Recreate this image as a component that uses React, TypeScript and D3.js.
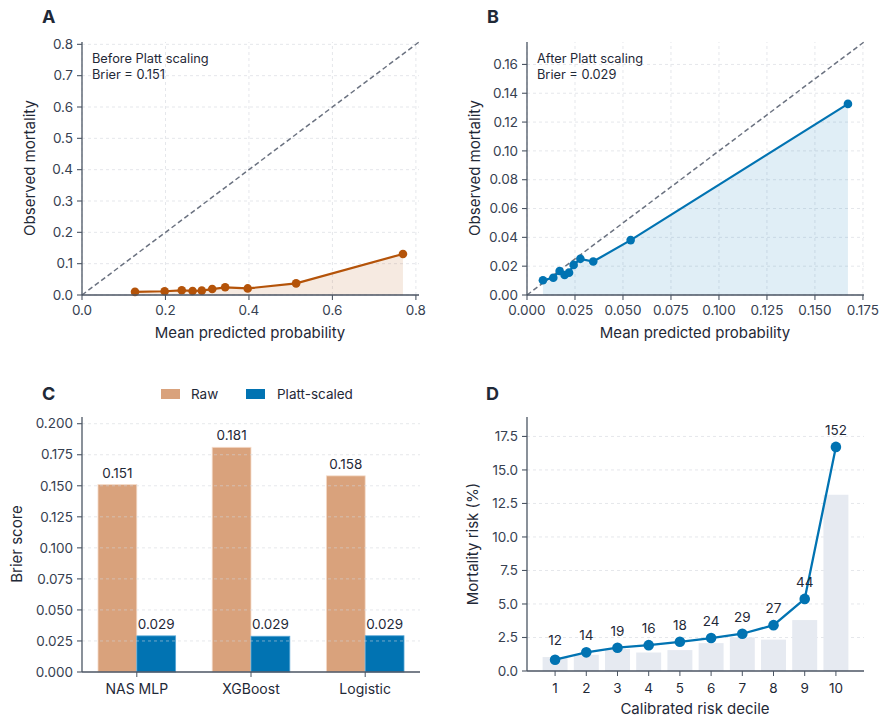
import React from "react";
import * as d3 from "d3";

// calibration bins, panel A (raw model)
const predA = [0.127, 0.198, 0.239, 0.265, 0.287, 0.312, 0.343, 0.397, 0.513, 0.769];
const obsA = [0.010, 0.012, 0.015, 0.013, 0.014, 0.019, 0.0245, 0.021, 0.037, 0.131];
// panel B (after Platt)
const predB = [0.0083, 0.0137, 0.017, 0.0196, 0.0219, 0.0243, 0.0278, 0.0345, 0.054, 0.1672];
const obsB = [0.0102, 0.012, 0.0167, 0.0139, 0.0155, 0.0209, 0.0251, 0.0232, 0.0381, 0.1326];

const models = ["NAS MLP", "XGBoost", "Logistic"];
const brierRaw = [0.151, 0.181, 0.158];
const brierPlatt = [0.0291, 0.0288, 0.0292];
const brierLabels = ["0.029", "0.029", "0.029"];

const deciles = ["1", "2", "3", "4", "5", "6", "7", "8", "9", "10"];
const predRisk = [0.84, 1.39, 1.74, 1.93, 2.18, 2.46, 2.78, 3.42, 5.38, 16.72];
const obsRisk = [1.04, 1.21, 1.64, 1.38, 1.56, 2.08, 2.51, 2.34, 3.8, 13.15];
const deaths = [12, 14, 19, 16, 18, 24, 29, 27, 44, 152];

const ORANGE = "#b45309";
const BLUE = "#0173b2";
const TAN = "#d9a27c";
const TEXT = "#1f2937";
const TICK = "#374151";
const AXIS = "#4b5563";
const GRID = "#e5e7eb";
const FONT = "Inter, 'Noto Sans', sans-serif";
const TS = 13.5; // tick font size
const LS = 15; // axis label size

type Lin = d3.ScaleLinear<number, number>;

function YAxis({ y, x0, ticks, fmt }: { y: Lin; x0: number; ticks: number[]; fmt: (v: number) => string }) {
  const [r0, r1] = y.range();
  return (
    <g>
      <line x1={x0} x2={x0} y1={r0} y2={r1} stroke={AXIS} strokeWidth={1.3} />
      {ticks.map((t) => (
        <g key={t}>
          <line x1={x0 - 5} x2={x0} y1={y(t)} y2={y(t)} stroke={AXIS} strokeWidth={1.1} />
          <text x={x0 - 9} y={y(t)} dy="0.35em" textAnchor="end" fontSize={TS} fill={TICK}>
            {fmt(t)}
          </text>
        </g>
      ))}
    </g>
  );
}

function XAxisLin({ x, y0, ticks, fmt }: { x: Lin; y0: number; ticks: number[]; fmt: (v: number) => string }) {
  const [r0, r1] = x.range();
  return (
    <g>
      <line x1={r0} x2={r1} y1={y0} y2={y0} stroke={AXIS} strokeWidth={1.3} />
      {ticks.map((t) => (
        <g key={t}>
          <line x1={x(t)} x2={x(t)} y1={y0} y2={y0 + 5} stroke={AXIS} strokeWidth={1.1} />
          <text x={x(t)} y={y0 + 20} textAnchor="middle" fontSize={TS} fill={TICK}>
            {fmt(t)}
          </text>
        </g>
      ))}
    </g>
  );
}

function CalPanel({ pred, obs, color, left, label, note, brier, xTicks, yTicks, xFmt, yFmt }: any) {
  const maxV = d3.max([...pred, ...obs]) * 1.05;
  const x = d3.scaleLinear().domain([0, maxV]).range([left, left + 337]);
  const y = d3.scaleLinear().domain([0, maxV]).range([295, 42]);
  const pts: [number, number][] = pred.map((p: number, i: number) => [p, obs[i]]);
  const line = d3.line<[number, number]>().x((d) => x(d[0])).y((d) => y(d[1]));
  const area = d3.area<[number, number]>().x((d) => x(d[0])).y0(y(0)).y1((d) => y(d[1]));
  return (
    <g>
      <text x={left - 40} y={23} fontSize={18} fontWeight={700} fill={TEXT}>{label}</text>
      {xTicks.map((t: number) => (
        <line key={"gx" + t} x1={x(t)} x2={x(t)} y1={y(0)} y2={y(maxV)} stroke={GRID} strokeDasharray="3,3" />
      ))}
      {yTicks.map((t: number) => (
        <line key={"gy" + t} x1={x(0)} x2={x(maxV)} y1={y(t)} y2={y(t)} stroke={GRID} strokeDasharray="3,3" />
      ))}
      <path d={area(pts) || ""} fill={color} fillOpacity={0.12} />
      <line x1={x(0)} y1={y(0)} x2={x(maxV)} y2={y(maxV)} stroke="#6b7280" strokeWidth={1.5} strokeDasharray="5,3" />
      <path d={line(pts) || ""} fill="none" stroke={color} strokeWidth={2.2} />
      {pts.map((d, i) => (
        <circle key={i} cx={x(d[0])} cy={y(d[1])} r={4.3} fill={color} />
      ))}
      <YAxis y={y} x0={x(0)} ticks={yTicks} fmt={yFmt} />
      <XAxisLin x={x} y0={y(0)} ticks={xTicks} fmt={xFmt} />
      <text x={left + 10} y={63} fontSize={12.8} fill={TEXT}>{note}</text>
      <text x={left + 10} y={78.5} fontSize={12.8} fill={TEXT}>{"Brier = " + brier}</text>
      <text x={left + 168} y={338} textAnchor="middle" fontSize={LS} fill={TEXT}>Mean predicted probability</text>
      <text transform={`translate(${left - 47},168) rotate(-90)`} textAnchor="middle" fontSize={LS} fill={TEXT}>
        Observed mortality
      </text>
    </g>
  );
}

function BrierPanel() {
  const x = d3.scaleBand().domain(models).range([82, 420]).paddingInner(0.32).paddingOuter(0.14);
  const sub = d3.scaleBand().domain(["raw", "platt"]).range([0, x.bandwidth()]);
  const y = d3.scaleLinear().domain([0, 0.2054]).range([672, 417]);
  const yTicks = d3.range(0, 0.2001, 0.025);
  const fmt = d3.format(".3f");
  return (
    <g>
      <text x={42} y={400} fontSize={18} fontWeight={700} fill={TEXT}>C</text>
      {models.map((m, i) => (
        <g key={m} transform={`translate(${x(m)},0)`}>
          <rect x={sub("raw")} y={y(brierRaw[i])} width={sub.bandwidth()} height={y(0) - y(brierRaw[i])} fill={TAN} stroke="#f5dccb" strokeWidth={0.8} />
          <rect x={sub("platt")} y={y(brierPlatt[i])} width={sub.bandwidth()} height={y(0) - y(brierPlatt[i])} fill={BLUE} stroke="#5aa7d6" strokeWidth={0.8} />
          <text x={(sub("raw") as number) + sub.bandwidth() / 2} y={y(brierRaw[i]) - 7} textAnchor="middle" fontSize={TS} fill={TEXT}>{fmt(brierRaw[i])}</text>
          <text x={(sub("platt") as number) + sub.bandwidth() / 2} y={y(brierPlatt[i]) - 7} textAnchor="middle" fontSize={TS} fill={TEXT}>{brierLabels[i]}</text>
        </g>
      ))}
      {yTicks.slice(1).map((t) => (
        <line key={t} x1={82} x2={420} y1={y(t)} y2={y(t)} stroke="#d1d5db" strokeOpacity={0.55} strokeDasharray="3,3" />
      ))}
      <YAxis y={y} x0={82} ticks={yTicks} fmt={fmt} />
      <line x1={82} x2={420} y1={672} y2={672} stroke={AXIS} strokeWidth={1.3} />
      {models.map((m) => (
        <g key={"t" + m}>
          <line x1={(x(m) as number) + x.bandwidth() / 2} x2={(x(m) as number) + x.bandwidth() / 2} y1={672} y2={677} stroke={AXIS} />
          <text x={(x(m) as number) + x.bandwidth() / 2} y={694} textAnchor="middle" fontSize={14} fill={TEXT}>{m}</text>
        </g>
      ))}
      <text transform="translate(22,544) rotate(-90)" textAnchor="middle" fontSize={LS} fill={TEXT}>Brier score</text>
      {/* legend */}
      <rect x={161} y={389} width={19} height={10} fill={TAN} />
      <text x={191} y={399} fontSize={13.5} fill={TEXT}>Raw</text>
      <rect x={246} y={389} width={19} height={10} fill={BLUE} />
      <text x={277} y={399} fontSize={13.5} fill={TEXT}>Platt-scaled</text>
    </g>
  );
}

function RiskPanel() {
  const x = d3.scaleBand().domain(deciles).range([527, 864]).paddingInner(0.2).paddingOuter(0.5);
  const y = d3.scaleLinear().domain([0, 18.95]).range([671, 417]);
  const yTicks = d3.range(0, 17.51, 2.5);
  const cx = (d: string) => (x(d) as number) + x.bandwidth() / 2;
  const line = d3.line<number>().x((_, i) => cx(deciles[i])).y((v) => y(v));
  return (
    <g>
      <text x={486} y={400} fontSize={18} fontWeight={700} fill={TEXT}>D</text>
      {yTicks.slice(1).map((t) => (
        <line key={t} x1={527} x2={864} y1={y(t)} y2={y(t)} stroke={GRID} strokeDasharray="3,3" />
      ))}
      {deciles.map((d, i) => (
        <rect key={d} x={x(d)} y={y(obsRisk[i])} width={x.bandwidth()} height={y(0) - y(obsRisk[i])} fill="#e6eaf1" />
      ))}
      <path d={line(predRisk) || ""} fill="none" stroke={BLUE} strokeWidth={2.3} />
      {deciles.map((d, i) => (
        <circle key={d} cx={cx(d)} cy={y(predRisk[i])} r={5.3} fill={BLUE} />
      ))}
      {deciles.map((d, i) => (
        <text key={"l" + d} x={cx(d)} y={y(Math.max(predRisk[i], obsRisk[i])) - 12} textAnchor="middle" fontSize={TS} fill={TEXT}>
          {deaths[i]}
        </text>
      ))}
      <YAxis y={y} x0={527} ticks={yTicks} fmt={d3.format(".1f")} />
      <line x1={527} x2={864} y1={671} y2={671} stroke={AXIS} strokeWidth={1.3} />
      {deciles.map((d) => (
        <g key={"t" + d}>
          <line x1={cx(d)} x2={cx(d)} y1={671} y2={676} stroke={AXIS} />
          <text x={cx(d)} y={693} textAnchor="middle" fontSize={TS} fill={TEXT}>{d}</text>
        </g>
      ))}
      <text x={695} y={714} textAnchor="middle" fontSize={LS} fill={TEXT}>Calibrated risk decile</text>
      <text transform="translate(478,544) rotate(-90)" textAnchor="middle" fontSize={LS} fill={TEXT}>Mortality risk (%)</text>
    </g>
  );
}

export default function App() {
  return (
    <svg width={881} height={720} style={{ position: "absolute", left: 0, top: 0, background: "#fff" }} fontFamily={FONT}>
      <CalPanel
        pred={predA} obs={obsA} color={ORANGE} left={82} label="A"
        note="Before Platt scaling" brier="0.151"
        xTicks={[0, 0.2, 0.4, 0.6, 0.8]} yTicks={[0, 0.1, 0.2, 0.3, 0.4, 0.5, 0.6, 0.7, 0.8]}
        xFmt={d3.format(".1f")} yFmt={d3.format(".1f")}
      />
      <CalPanel
        pred={predB} obs={obsB} color={BLUE} left={527} label="B"
        note="After Platt scaling" brier="0.029"
        xTicks={[0, 0.025, 0.05, 0.075, 0.1, 0.125, 0.15, 0.175]} yTicks={[0, 0.02, 0.04, 0.06, 0.08, 0.1, 0.12, 0.14, 0.16]}
        xFmt={d3.format(".3f")} yFmt={d3.format(".2f")}
      />
      <BrierPanel />
      <RiskPanel />
    </svg>
  );
}
